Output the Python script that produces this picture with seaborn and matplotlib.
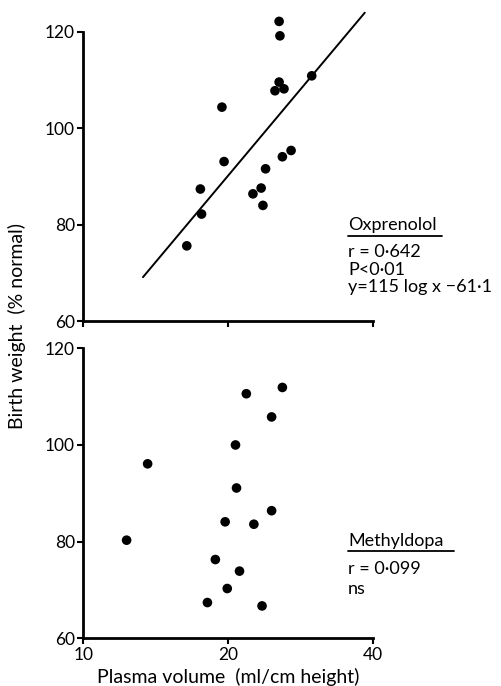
import numpy as np
import pandas as pd
import seaborn as sns
import matplotlib.pyplot as plt
from matplotlib.lines import Line2D

# Oxprenolol group (plasma volume ml/cm height, birth weight % normal)
oxp_x = [25.5, 25.6, 29.8, 25.5, 25.0, 26.1, 19.4, 19.6, 27.0, 25.9, 23.9,
         17.5, 23.4, 22.5, 23.6, 17.6, 16.4]
oxp_y = [122.2, 119.2, 110.9, 109.6, 107.8, 108.2, 104.4, 93.1, 95.4, 94.1,
         91.6, 87.4, 87.6, 86.4, 84.0, 82.2, 75.6]
# fitted line end points (y = 115 log x - 61.1)
fit_x = [13.3, 38.4]
fit_y = [69.1, 124.0]

# Methyldopa group
met_x = [25.9, 21.8, 24.6, 20.7, 13.6, 20.8, 24.6, 19.7, 22.6, 12.3, 18.8,
         21.1, 19.9, 18.1, 23.5]
met_y = [111.9, 110.6, 105.8, 100.0, 96.1, 91.1, 86.4, 84.1, 83.6, 80.3,
         76.3, 73.9, 70.3, 67.4, 66.7]

x_ticks = [10, 20, 40]
y_ticks = [60, 80, 100, 120]

oxp = pd.DataFrame({'pv': oxp_x, 'bw': oxp_y})
met = pd.DataFrame({'pv': met_x, 'bw': met_y})
fit = pd.DataFrame({'pv': fit_x, 'bw': fit_y})

sns.set_style('ticks')
plt.rcParams['font.family'] = ['Lato', 'DejaVu Sans']
plt.rcParams['text.color'] = 'black'

W, H = 502, 686
fig = plt.figure(figsize=(W / 100, H / 100), dpi=100)
left, width = 83.3 / W, 290 / W
ax1 = fig.add_axes([left, 1 - 321 / H, width, 315.5 / H])
ax2 = fig.add_axes([left, 1 - 638.3 / H, width, 290 / H])

sns.scatterplot(data=oxp, x='pv', y='bw', ax=ax1, color='black', s=48,
                edgecolor='none')
sns.lineplot(data=fit, x='pv', y='bw', ax=ax1, color='black', linewidth=1.4)
sns.scatterplot(data=met, x='pv', y='bw', ax=ax2, color='black', s=48,
                edgecolor='none')

for ax, top in [(ax1, 125.5), (ax2, 120)]:
    ax.set_xscale('log', base=2)
    ax.set_xlim(10, 40)
    ax.set_ylim(60, top)
    ax.set_xticks(x_ticks)
    ax.minorticks_off()
    ax.set_yticks(y_ticks)
    ax.set_yticklabels([str(v) for v in y_ticks], fontsize=12.5)
    ax.set_xlabel('')
    ax.set_ylabel('')
    for side in ['top', 'right']:
        ax.spines[side].set_visible(False)
    for side in ['left', 'bottom']:
        ax.spines[side].set_linewidth(2)
        ax.spines[side].set_color('black')
    ax.spines['left'].set_bounds(60, 120)
    ax.tick_params(direction='out', length=4, width=1.5, colors='black',
                   labelcolor='black', pad=2)
    ax.patch.set_alpha(0)

ax1.set_xticklabels(['', '', ''])
ax2.set_xticklabels([str(v) for v in x_ticks], fontsize=12.5)

fig.text(17 / W, 1 - 326 / H, 'Birth weight  (% normal)', rotation=90,
         ha='center', va='center', fontsize=14)
fig.text(228 / W, 1 - 677 / H, 'Plasma volume  (ml/cm height)',
         ha='center', va='center', fontsize=14)


def label_block(lines, ys, line_end, line_y):
    for txt, yy in zip(lines, ys):
        fig.text(348 / W, 1 - yy / H, txt, ha='left', va='center', fontsize=13)
    fig.add_artist(Line2D([348 / W, line_end / W], [1 - line_y / H, 1 - line_y / H],
                          color='black', linewidth=1.3))


label_block(['Oxprenolol', 'r = 0·642', 'P<0·01', 'y=115 log x −61·1'],
            [225, 252, 270, 287], 442, 236)
label_block(['Methyldopa', 'r = 0·099', 'ns'],
            [540.7, 569, 589], 454, 551)

fig.savefig('out.png', dpi=100)
